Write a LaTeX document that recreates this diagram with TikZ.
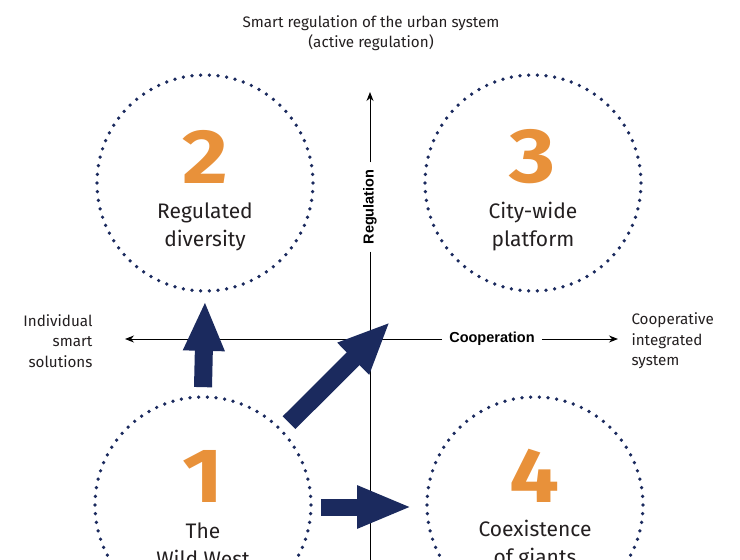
\documentclass[tikz,border=0pt]{standalone}
\usepackage{fontspec}
\setmainfont{Fira Sans}
\newfontfamily\axisfont{Liberation Sans}
\newfontfamily\numfont[FakeStretch=1.15]{Fira Sans}
\usetikzlibrary{arrows.meta}
\definecolor{navy}{HTML}{1B2A5E}
\definecolor{orng}{HTML}{E8913A}
\definecolor{txt}{HTML}{231F20}
\begin{document}
\begin{tikzpicture}[x=1pt,y=-1pt,
  ring/.style={circle, minimum size=216pt, inner sep=0pt, draw=navy, line width=3.7pt, dash pattern=on 0pt off 8.7pt, line cap=round},
  num/.style={text=orng, font=\numfont\fontsize{77}{77}\selectfont\bfseries},
  lbl/.style={text=txt, font=\fontsize{21}{28}\selectfont, align=center},
  side/.style={text=txt, font=\fontsize{15.2}{20.5}\selectfont},
  axislbl/.style={text=black, font=\axisfont\fontsize{14.5}{16}\selectfont\bfseries, inner sep=7pt},
  axisline/.style={line width=1pt, black, -{Stealth[length=9pt,width=7pt]}},
  bigarrow/.style={navy, line width=#1},
]
\useasboundingbox (0,0) rectangle (740,560);
% title
\node[side, align=center] (title) at (371,33) {Smart regulation of the urban system\\(active regulation)};
% circles
\node[ring] (c2) at (205,183) {};
\node[ring] (c3) at (533,183) {};
\node[ring] (c1) at (203,505) {};
\node[ring] (c4) at (535,505) {};
% numbers and labels
\node[num] (n2) at (205,157) {2};
\node[lbl] (l2) at (205,227) {Regulated\\diversity};
\node[num] (n3) at (533,157) {3};
\node[lbl] (l3) at (533,227) {City-wide\\platform};
\node[num] (n1) at (203,476) {1};
\node[lbl] (l1) at (203,545) {The\\Wild West};
\node[num] (n4) at (535,476) {4};
\node[lbl] (l4) at (535,545) {Coexistence\\of giants};
% axes
\coordinate (vtop) at (370,92);
\coordinate (vbot) at (370,570);
\node[axislbl, rotate=90] (reg) at (370,207) {Regulation};
\draw[axisline] (reg.east) -- (vtop);
\draw[line width=1pt] (reg.west) -- (vbot);
\coordinate (hl) at (125,339);
\coordinate (hr) at (618,339);
\node[axislbl] (coop) at (492,339) {Cooperation};
\draw[axisline] (coop.west) -- (hl);
\draw[axisline] (coop.east) -- (hr);
% side labels
\node[side, anchor=east, align=right] (left) at (96,341) {Individual\\smart\\solutions};
\node[side, anchor=west, align=left] (right) at (628,341) {Cooperative\\integrated\\system};
% big arrows
\coordinate (dtip) at (390,322);
\draw[bigarrow=18pt, -{Triangle[width=38pt,length=50pt]}] ([yshift=8pt]c1.north) -- ([yshift=-8pt]c2.south);
\draw[bigarrow=18pt, -{Triangle[width=41pt,length=52pt]}] ([shift={(7pt,6pt)}]c1.44) -- (dtip);
\draw[bigarrow=17pt, -{Triangle[width=39pt,length=55pt]}] ([shift={(8pt,-2pt)}]c1.east) -- ([shift={(-13pt,-2pt)}]c4.west);
\end{tikzpicture}
\end{document}
